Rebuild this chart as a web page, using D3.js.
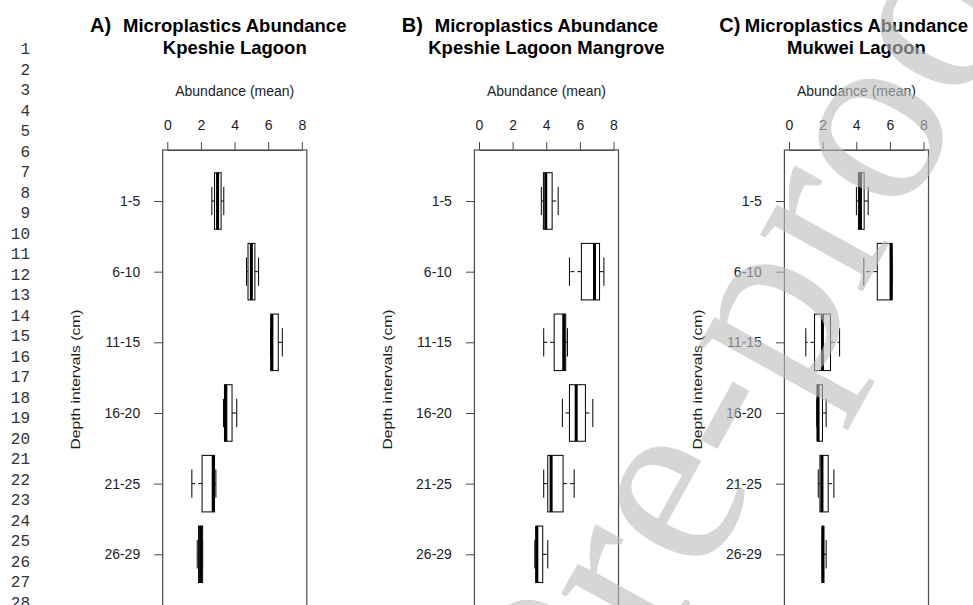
<!DOCTYPE html>
<html><head><meta charset="utf-8">
<script src="https://cdn.jsdelivr.net/npm/d3@7"></script>
<style>body{margin:0;background:#fff;} svg{display:block;}</style>
</head><body><svg id="chart" width="973" height="605"></svg>
<script>
// ---------- data ----------
const categories = ["1-5", "6-10", "11-15", "16-20", "21-25", "26-29"];
const xTicks = [0, 2, 4, 6, 8];
const panelLetters = ["A)", "B)", "C)"];
const titleLine1 = "Microplastics Abundance";
const siteNames = ["Kpeshie Lagoon", "Kpeshie Lagoon Mangrove", "Mukwei Lagoon"];
const xLabel = "Abundance (mean)";
const yLabel = "Depth intervals (cm)";
const lineNumbers = [1,2,3,4,5,6,7,8,9,10,11,12,13,14,15,16,17,18,19,20,21,22,23,24,25,26,27,28];
const watermarkText = "Journal Pre-proof";

// Panel A: Kpeshie Lagoon
const aMin = [2.65, 4.71, 6.14, 3.34, 1.46, 1.78];
const aQ1  = [2.81, 4.80, 6.16, 3.40, 2.07, 1.86];
const aMed = [2.99, 5.00, 6.22, 3.48, 2.73, 1.98];
const aQ3  = [3.20, 5.21, 6.60, 3.85, 2.81, 2.10];
const aMax = [3.36, 5.43, 6.84, 4.13, 2.89, 2.10];
// Panel B: Kpeshie Lagoon Mangrove
const bMin = [3.71, 5.38, 3.85, 4.96, 3.85, 3.32];
const bQ1  = [3.83, 6.09, 4.47, 5.38, 4.09, 3.38];
const bMed = [3.97, 6.87, 5.04, 5.78, 4.29, 3.44];
const bQ3  = [4.35, 7.17, 5.16, 6.33, 5.00, 3.79];
const bMax = [4.71, 7.43, 5.26, 6.77, 5.66, 4.09];
// Panel C: Mukwei Lagoon
const cMin = [4.01, 4.45, 1.00, 1.65, 1.74, 1.98];
const cQ1  = [4.13, 5.25, 1.52, 1.68, 1.84, 1.98];
const cMed = [4.25, 6.07, 1.99, 1.73, 1.96, 2.01];
const cQ3  = [4.47, 6.13, 2.47, 1.99, 2.33, 2.07];
const cMax = [4.71, 6.13, 3.01, 2.21, 2.67, 2.21];

const panelStats = [
  {min: aMin, q1: aQ1, med: aMed, q3: aQ3, max: aMax},
  {min: bMin, q1: bQ1, med: bMed, q3: bQ3, max: bMax},
  {min: cMin, q1: cQ1, med: cMed, q3: cQ3, max: cMax}
];

// ---------- layout ----------
const W = 973, H = 605;
const FONT = "'Liberation Sans', Arial, Helvetica, sans-serif";
const TXT = "#1c1c1c", AXC = "#4a4a4a";
const zeroX = [167.3, 479, 789];
const letterX = [90, 401.7, 719.3];
const xSpan = 134.5;
const frameTop = 150, frameBottom = 607;
const yFirst = 201, yLast = 554.3;

const svg = d3.select("#chart");
svg.append("rect").attr("width", W).attr("height", H).attr("fill", "#fff");

// line numbers
const ln = d3.scaleLinear().domain([1, 28]).range([50.2, 50.2 + 27 * 20.5]);
svg.append("g").selectAll("text").data(lineNumbers).join("text")
  .attr("x", 30).attr("y", d => ln(d))
  .attr("text-anchor", "end").attr("dominant-baseline", "central")
  .attr("font-family", "'Liberation Mono', 'Courier New', monospace")
  .attr("font-size", 16).attr("fill", "#333")
  .text(d => d);

const y = d3.scalePoint().domain(categories).range([yFirst, yLast]);
const step = (yLast - yFirst) / (categories.length - 1);
const halfBox = 0.4 * step;
const halfCap = 0.2 * step;

panelStats.forEach((st, p) => {
  const x = d3.scaleLinear().domain([0, 8]).range([zeroX[p], zeroX[p] + xSpan]);
  const left = x(0) - 4.6, right = x(8) + 5;
  const cx = (left + right) / 2;
  const g = svg.append("g");

  // titles
  g.append("text").attr("x", letterX[p]).attr("y", 31.7)
    .attr("font-family", FONT).attr("font-weight", "bold").attr("font-size", 20)
    .attr("fill", "#000").text(panelLetters[p]);
  g.append("text").attr("x", cx).attr("y", 31.7).attr("text-anchor", "middle")
    .attr("font-family", FONT).attr("font-weight", "bold").attr("font-size", 18.5)
    .attr("fill", "#000").text(titleLine1);
  g.append("text").attr("x", cx).attr("y", 54).attr("text-anchor", "middle")
    .attr("font-family", FONT).attr("font-weight", "bold").attr("font-size", 18.5)
    .attr("fill", "#000").text(siteNames[p]);

  // x label
  g.append("text").attr("x", cx).attr("y", 96).attr("text-anchor", "middle")
    .attr("font-family", FONT).attr("font-size", 14).attr("fill", TXT).text(xLabel);

  // y label
  g.append("text")
    .attr("transform", `translate(${left - 82.5},379.5) rotate(-90)`)
    .attr("text-anchor", "middle")
    .attr("font-family", FONT).attr("font-size", 12.5).attr("fill", TXT)
    .attr("textLength", 140).attr("lengthAdjust", "spacingAndGlyphs")
    .text(yLabel);

  // frame
  g.append("rect").attr("x", left).attr("y", frameTop)
    .attr("width", right - left).attr("height", frameBottom - frameTop)
    .attr("fill", "none").attr("stroke", AXC).attr("stroke-width", 1.2);

  // top axis
  const ax = g.append("g").attr("transform", `translate(0,${frameTop})`)
    .call(d3.axisTop(x).tickValues(xTicks).tickSize(8).tickSizeOuter(0).tickPadding(12));
  ax.select(".domain").attr("stroke", AXC);
  ax.selectAll(".tick line").attr("stroke", AXC);
  ax.selectAll(".tick text").attr("font-family", FONT).attr("font-size", 14).attr("fill", TXT);

  // left axis
  const ay = g.append("g").attr("transform", `translate(${left},0)`)
    .call(d3.axisLeft(y).tickSize(8.5).tickSizeOuter(0).tickPadding(14));
  ay.select(".domain").remove();
  ay.selectAll(".tick line").attr("stroke", AXC);
  ay.selectAll(".tick text").attr("font-family", FONT).attr("font-size", 14).attr("fill", TXT);

  // boxplots
  const rows = categories.map((c, i) => ({c, min: st.min[i], q1: st.q1[i], med: st.med[i], q3: st.q3[i], max: st.max[i]}));
  const bx = g.append("g").selectAll("g").data(rows).join("g");
  bx.append("line").attr("x1", d => x(d.q1)).attr("x2", d => x(d.min))
    .attr("y1", d => y(d.c)).attr("y2", d => y(d.c))
    .attr("stroke", "#000").attr("stroke-dasharray", "4,3");
  bx.append("line").attr("x1", d => x(d.q3)).attr("x2", d => x(d.max))
    .attr("y1", d => y(d.c)).attr("y2", d => y(d.c))
    .attr("stroke", "#000").attr("stroke-dasharray", "4,3");
  ["min", "max"].forEach(k => {
    bx.append("line").attr("x1", d => x(d[k])).attr("x2", d => x(d[k]))
      .attr("y1", d => y(d.c) - halfCap).attr("y2", d => y(d.c) + halfCap)
      .attr("stroke", "#000").attr("stroke-width", 1);
  });
  bx.append("rect").attr("x", d => x(d.q1)).attr("width", d => Math.max(0.5, x(d.q3) - x(d.q1)))
    .attr("y", d => y(d.c) - halfBox).attr("height", 2 * halfBox)
    .attr("fill", "#fff").attr("stroke", "#000").attr("stroke-width", 1);
  bx.append("line").attr("x1", d => x(d.med)).attr("x2", d => x(d.med))
    .attr("y1", d => y(d.c) - halfBox).attr("y2", d => y(d.c) + halfBox)
    .attr("stroke", "#000").attr("stroke-width", 3);
});

// watermark
const S = 255;
const wm = svg.append("g").attr("transform", "translate(561.4,834.9) rotate(-61)");
const probe = wm.append("text").attr("font-family", "'Liberation Serif', 'Times New Roman', serif")
  .attr("font-size", S).text("Journal ");
const pre = probe.node().getComputedTextLength();
probe.remove();
wm.append("text").attr("x", -pre).attr("y", 0)
  .attr("font-family", "'Liberation Serif', 'Times New Roman', serif")
  .attr("font-size", S).attr("fill", "#bdbdbd").attr("fill-opacity", 0.62)
  .text(watermarkText);
</script>
</body></html>
